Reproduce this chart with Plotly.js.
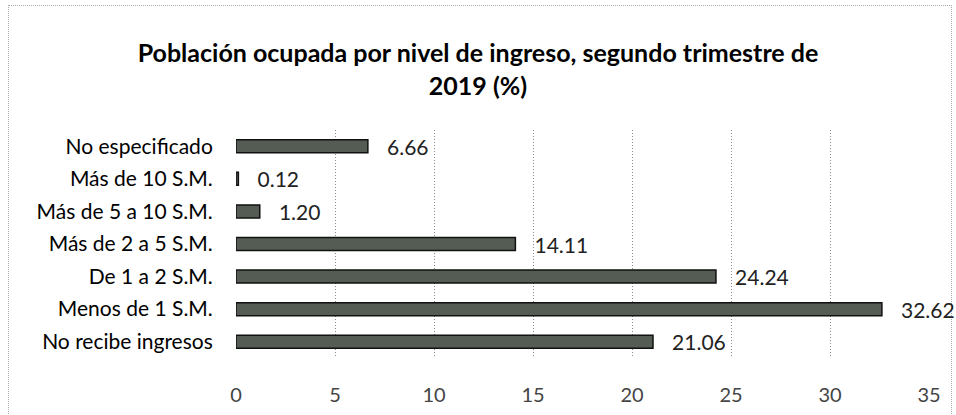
<!DOCTYPE html>
<html>
<head>
<meta charset="utf-8">
<script src="https://cdn.plot.ly/plotly-3.0.1.min.js"></script>
<style>
html,body{margin:0;padding:0;background:#fff;}
#frame{position:absolute;left:8px;top:5px;width:942px;height:420px;border-top:1px dotted #aaa;border-left:1px dotted #aaa;border-right:1px dotted #aaa;}
#chart{position:absolute;left:0;top:0;width:956px;height:415px;}
</style>
</head>
<body>
<div id="frame"></div>
<div id="chart"></div>
<script>
const categories = ["No recibe ingresos","Menos de 1 S.M.","De 1 a 2 S.M.","Más de 2 a 5 S.M.","Más de 5 a 10 S.M.","Más de 10 S.M.","No especificado"];
const values = [21.06, 32.62, 24.24, 14.11, 1.20, 0.12, 6.66];
const tickVals = [0,5,10,15,20,25,30,35];
const titleText = "Población ocupada por nivel de ingreso, segundo trimestre de<br>2019 (%)";

const font = "Lato, 'Open Sans', sans-serif";
Plotly.newPlot('chart', [{
  type: 'bar',
  orientation: 'h',
  y: categories,
  x: values,
  width: 0.4,
  marker: {color: '#545c54', line: {color: '#111', width: 1.5}},
  text: values.map(v => v.toFixed(2)),
  texttemplate: '   %{text}',
  textposition: 'outside',
  constraintext: 'none',
  textfont: {family: font, size: 21, color: '#222'},
  cliponaxis: false,
  hoverinfo: 'none'
}], {
  width: 956, height: 415,
  paper_bgcolor: 'rgba(0,0,0,0)',
  plot_bgcolor: 'rgba(0,0,0,0)',
  margin: {l: 236, r: 27, t: 130, b: 57},
  title: {text: titleText, x: 0.5, xref: 'container', xanchor: 'center', y: 0.85, yref: 'container', yanchor: 'top',
          font: {family: font, size: 25, color: '#000', weight: 'bold'}},
  xaxis: {range: [0, 35], tickvals: tickVals, showgrid: true, gridcolor: '#8a8a8a', griddash: '1px,2px', gridwidth: 1,
          zeroline: false, showline: false, ticks: 'outside', ticklen: 19, tickcolor: 'rgba(0,0,0,0)',
          tickfont: {family: font, size: 20, color: '#444'}, fixedrange: true},
  yaxis: {categoryorder: 'array', categoryarray: categories, showgrid: false, zeroline: false, showline: false,
          ticks: 'outside', ticklen: 18, tickcolor: 'rgba(0,0,0,0)',
          tickfont: {family: font, size: 21, color: '#000'}, fixedrange: true},
  showlegend: false,
  bargap: 0.6
}, {displayModeBar: false, staticPlot: true});
</script>
</body>
</html>
